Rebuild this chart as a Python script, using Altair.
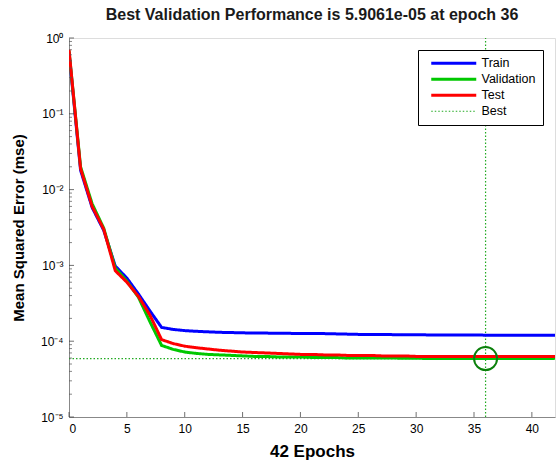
import altair as alt
import pandas as pd

# Training record: mean squared error per epoch
epochs = list(range(43))
train_mse = [0.65, 0.018, 0.0058, 0.0029, 0.00098, 0.00068, 0.00042, 0.00025,
             0.000152, 0.000143, 0.000138, 0.000135, 0.000133, 0.000131, 0.00013,
             0.000129, 0.000128, 0.000128, 0.000127, 0.000127, 0.000126, 0.000126,
             0.000126, 0.000125, 0.000124, 0.000123, 0.000123, 0.000123, 0.000122,
             0.000122, 0.000122, 0.000121, 0.000121, 0.000121, 0.000121, 0.000121,
             0.00012, 0.00012, 0.00012, 0.00012, 0.00012, 0.00012, 0.00012]
val_mse = [0.68, 0.02, 0.0065, 0.0031, 0.00092, 0.00062, 0.00038, 0.00018,
           0.000088, 0.000078, 0.000072, 0.000069, 0.000067, 0.000066, 0.000065,
           0.000064, 0.000063, 0.000063, 0.000062, 0.000062, 0.000062, 0.000061,
           0.000061, 0.000061, 0.00006, 0.00006, 0.00006, 0.00006, 0.00006,
           0.0000595, 0.0000594, 0.0000593, 0.0000593, 0.0000592, 0.0000592, 0.0000591,
           0.000059061, 0.0000591, 0.0000592, 0.0000592, 0.0000592, 0.0000593, 0.0000593]
test_mse = [0.7, 0.019, 0.006, 0.003, 0.00085, 0.0006, 0.00039, 0.00022,
            0.000105, 0.000093, 0.000086, 0.000082, 0.000079, 0.000076, 0.000074,
            0.000072, 0.000071, 0.00007, 0.000069, 0.000068, 0.000067, 0.000067,
            0.000066, 0.000066, 0.000065, 0.000065, 0.000065, 0.000064, 0.000064,
            0.000064, 0.000063, 0.000063, 0.000063, 0.000063, 0.000063, 0.000063,
            0.000063, 0.000063, 0.000063, 0.000063, 0.000063, 0.000063, 0.000063]

best_epoch = 36
best_perf = 5.9061e-05

series_names = ["Train", "Validation", "Test", "Best"]
series_colors = ["#0000ff", "#00c800", "#ff0000", "#22aa22"]
series_dash = [[1, 0], [1, 0], [1, 0], [1.5, 2]]

x_ticks = [0, 5, 10, 15, 20, 25, 30, 35, 40]
y_decades = [1e-5, 1e-4, 1e-3, 1e-2, 1e-1, 1]
y_labels = ["10⁻⁵", "10⁻⁴", "10⁻³", "10⁻²", "10⁻¹", "10⁰"]
y_minor = [k * 10.0 ** e for e in range(-5, 0) for k in range(2, 10)]

W, H = 486, 379
FONT = "Liberation Sans"

rows = []
for name, vals in (("Train", train_mse), ("Validation", val_mse), ("Test", test_mse)):
    rows += [{"epoch": e, "mse": v, "series": name} for e, v in zip(epochs, vals)]
curves = pd.DataFrame(rows)

best_rules = pd.DataFrame([
    {"epoch": best_epoch, "epoch2": best_epoch, "mse": 1e-5, "mse2": 1.0, "series": "Best"},
    {"epoch": 0, "epoch2": 42, "mse": best_perf, "mse2": best_perf, "series": "Best"},
])
best_point = pd.DataFrame([{"epoch": best_epoch, "mse": best_perf}])

x_scale = alt.Scale(domain=[0, 42], nice=False, zero=False)
y_scale = alt.Scale(type="log", domain=[1e-5, 1], nice=False)

label_array = "[" + ",".join("'%s'" % s for s in y_labels) + "]"

# legend keys: a horizontal stroke drawn to the right of the symbol anchor
legend = alt.Legend(
    title=None, orient="none", legendX=349, legendY=12,
    strokeColor="#000000", fillColor="#ffffff", padding=7,
    symbolType="M0,0H18", symbolSize=25,
    symbolStrokeWidth=alt.ExprRef("datum.label === 'Best' ? 1 : 3"),
    labelFont=FONT, labelFontSize=12.5, labelColor="#000000",
    labelOffset=44, rowPadding=3, cornerRadius=0,
)
color = alt.Color("series:N", scale=alt.Scale(domain=series_names, range=series_colors),
                  legend=legend)
dash = alt.StrokeDash("series:N", scale=alt.Scale(domain=series_names, range=series_dash),
                      legend=None)

x_axis = alt.Axis(values=x_ticks, title="42 Epochs", labelFontSize=12, labelPadding=6,
                  titleFontSize=17, titlePadding=9, ticks=False, grid=False)
y_axis = alt.Axis(values=y_decades, title="Mean Squared Error  (mse)",
                  labelExpr=label_array + "[round(log(datum.value)/LN10)+5]",
                  labelFontSize=12, labelPadding=6, titleFontSize=15, titlePadding=14,
                  ticks=False, grid=False)

X = alt.X("epoch:Q", scale=x_scale, axis=x_axis)
Y = alt.Y("mse:Q", scale=y_scale, axis=y_axis)

lines = alt.Chart(curves).mark_line(clip=True, strokeWidth=3).encode(
    x=X, y=Y, color=color, strokeDash=dash, order=alt.Order("epoch:Q"),
)

rules = alt.Chart(best_rules).mark_rule(strokeWidth=1.2).encode(
    x=X, x2="epoch2:Q", y=Y, y2="mse2:Q", color=color, strokeDash=dash,
)

circle = alt.Chart(best_point).mark_point(shape="circle", filled=False, size=530,
                                          color="#0b800b", strokeWidth=2, opacity=1).encode(
    x=X, y=Y)

# inward-pointing tick marks along both axes
xt = alt.Chart(pd.DataFrame({"epoch": x_ticks})).mark_tick(
    orient="vertical", size=5, thickness=1, color="#333333").encode(
    x=X, y=alt.value(H - 2.5))
yt = alt.Chart(pd.DataFrame({"mse": y_decades})).mark_tick(
    orient="horizontal", size=5, thickness=1, color="#333333").encode(
    y=Y, x=alt.value(2.5))
ym = alt.Chart(pd.DataFrame({"mse": y_minor})).mark_tick(
    orient="horizontal", size=3, thickness=1, color="#555555").encode(
    y=Y, x=alt.value(1.5))

chart = alt.layer(rules, lines, circle, xt, yt, ym).properties(
    width=W, height=H,
    title=alt.Title("Best Validation Performance is 5.9061e-05 at epoch 36",
                    fontSize=16, fontWeight="bold", font=FONT, color="#1a1a1a",
                    anchor="middle", offset=9),
    autosize=alt.AutoSizeParams(type="none"),
    padding={"left": 69, "top": 38, "right": 2, "bottom": 47},
).configure_view(stroke=None).configure_axis(
    grid=False, domainColor="#333333", domainWidth=1, labelColor="#555555",
    labelFont=FONT, titleFont=FONT, titleFontWeight="bold", titleColor="#222222",
).configure(background="#ffffff")

chart.save("out.html", embed_options={"renderer": "svg", "actions": False})
